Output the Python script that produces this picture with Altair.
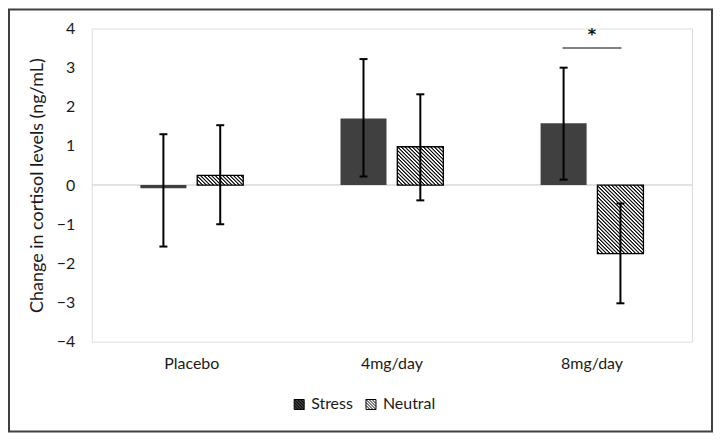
import math
import altair as alt
import pandas as pd

# ---------------- data ----------------
categories = ["Placebo", "4mg/day", "8mg/day"]
series_names = ["Stress", "Neutral"]
stress_mean = [-0.08, 1.70, 1.58]
stress_lo = [-1.57, 0.22, 0.14]
stress_hi = [1.30, 3.22, 3.00]
neutral_mean = [0.25, 0.98, -1.75]
neutral_lo = [-1.00, -0.39, -3.02]
neutral_hi = [1.53, 2.32, -0.47]
y_ticks = [-4, -3, -2, -1, 0, 1, 2, 3, 4]
sig_category = ["8mg/day"]
sig_y = [3.5]
star_y = [3.71]
star_text = ["*"]
y_title = "Change in cortisol levels (ng/mL)"

# ---------------- layout / style ----------------
W, H = 602, 314
Y_MIN, Y_MAX = -4, 4
PAD_IN, PAD_OUT = 0.486, 0.243
OFF_PAD = 0.19
FONT = "Lato"
TXT = "#1a1a1a"
FS = 16

rows = []
for i, c in enumerate(categories):
    rows.append(dict(cat=c, series="Stress", mean=stress_mean[i], lo=stress_lo[i], hi=stress_hi[i]))
    rows.append(dict(cat=c, series="Neutral", mean=neutral_mean[i], lo=neutral_lo[i], hi=neutral_hi[i]))
df = pd.DataFrame(rows)

x_scale = alt.Scale(domain=categories, paddingInner=PAD_IN, paddingOuter=PAD_OUT)
xo_scale = alt.Scale(domain=series_names, paddingInner=OFF_PAD, paddingOuter=0)
y_scale = alt.Scale(domain=[Y_MIN, Y_MAX], nice=False, zero=False)

x_axis = alt.Axis(title=None, domain=False, ticks=False, labelAngle=0, labelPadding=14,
                  labelFont=FONT, labelFontSize=FS, labelColor=TXT)
y_axis = alt.Axis(title=y_title, values=y_ticks, domain=False, ticks=False, grid=False,
                  labelOverlap=False, labelPadding=17, labelFont=FONT, labelFontSize=FS,
                  labelColor=TXT, titleFont=FONT, titleFontSize=18, titleFontWeight="normal",
                  titleColor=TXT, titlePadding=10)

X = alt.X("cat:N", scale=x_scale, axis=x_axis)
XO = alt.XOffset("series:N", scale=xo_scale)


def Y(field):
    return alt.Y(field, scale=y_scale, axis=y_axis, title=y_title)


# bar width in px, used only to shape the hatch gradient
step = W / (len(categories) - PAD_IN + 2 * PAD_OUT)
band = step * (1 - PAD_IN)
bar_w = band / (2 - OFF_PAD) * (1 - OFF_PAD)
px_per_unit = H / (Y_MAX - Y_MIN)


def hatch(w, h, period=2.6, ink="#111111"):
    D = (w + h) / math.sqrt(2)
    s = (w * w + h * h) / (w + h)
    x2 = w / s
    y2 = 1 - h / s
    pf = period / D
    stops = [{"offset": 0, "color": "#ffffff"}]
    k = 0
    while (k + 1) * pf <= 1:
        a = k * pf
        stops += [
            {"offset": a + 0.15 * pf, "color": "#ffffff"},
            {"offset": a + 0.4 * pf, "color": ink},
            {"offset": a + 0.6 * pf, "color": ink},
            {"offset": a + 0.85 * pf, "color": "#ffffff"},
        ]
        k += 1
    stops.append({"offset": 1, "color": "#ffffff"})
    return {"gradient": "linear", "x1": 0, "y1": 1, "x2": x2, "y2": y2, "stops": stops}


# legend symbol: outlined square with diagonal hatch
hatch_path = "M-1,-1H1V1H-1Z"
for c in [-1.2, -0.6, 0, 0.6, 1.2]:
    if c >= 0:
        hatch_path += f"M{c - 1},-1L1,{1 - c}"
    else:
        hatch_path += f"M-1,{-1 - c}L{1 + c},1"

legend = alt.Legend(title=None, orient="none", legendX=200, legendY=369, direction="horizontal",
                    symbolType=hatch_path, symbolSize=100, symbolStrokeColor="black",
                    symbolStrokeWidth=1, labelFont=FONT, labelFontSize=FS, labelColor=TXT,
                    columnPadding=10, labelOffset=4, padding=0)

zero_df = pd.DataFrame({"z": [0]})
zero_line = alt.Chart(zero_df).mark_rule(color="#d9d9d9", strokeWidth=1.5).encode(y=Y("z:Q"))

bars = alt.Chart(df).mark_bar().encode(
    x=X, xOffset=XO,
    y=Y("mean:Q"),
    y2=alt.Y2(datum=0),
    fill=alt.Fill("series:N", scale=alt.Scale(domain=series_names, range=["#404040", "#ffffff"]),
                  legend=legend),
)

hatch_layers = []
for i, c in enumerate(categories):
    h = abs(neutral_mean[i]) * px_per_unit
    hatch_layers.append(
        alt.Chart(df)
        .transform_filter((alt.datum.series == "Neutral") & (alt.datum.cat == c))
        .mark_bar(fill=hatch(bar_w, h), stroke="black", strokeWidth=1.3)
        .encode(x=X, xOffset=XO, y=Y("mean:Q"), y2=alt.Y2(datum=0))
    )

err = alt.Chart(df).mark_rule(color="black", strokeWidth=2).encode(
    x=X, xOffset=XO, y=Y("lo:Q"), y2="hi:Q"
)
cap_lo = alt.Chart(df).mark_tick(color="black", thickness=2, size=8, opacity=1).encode(
    x=X, xOffset=XO, y=Y("lo:Q")
)
cap_hi = alt.Chart(df).mark_tick(color="black", thickness=2, size=8, opacity=1).encode(
    x=X, xOffset=XO, y=Y("hi:Q")
)

sig_df = pd.DataFrame({"cat": sig_category, "y": sig_y, "star_y": star_y, "t": star_text})
sig_line = alt.Chart(sig_df).mark_tick(color="#595959", thickness=1.5, size=59, opacity=1).encode(
    x=X, y=Y("y:Q")
)
star = alt.Chart(sig_df).mark_text(font="DejaVu Sans", fontSize=16, fontWeight="bold", color="#111111",
                                   align="center", baseline="alphabetic").encode(
    x=X, y=Y("star_y:Q"), text="t:N"
)

frame = alt.Chart(pd.DataFrame({"f": [0]})).mark_rect(
    fillOpacity=0, stroke="#404040", strokeWidth=2
).encode(x=alt.value(-83), x2=alt.value(622), y=alt.value(-19), y2=alt.value(404))

chart = alt.layer(zero_line, bars, *hatch_layers, err, cap_lo, cap_hi, sig_line, star, frame).properties(
    width=W, height=H,
    autosize=alt.AutoSizeParams(type="none"),
    padding={"left": 84, "top": 20, "right": 22, "bottom": 93},
).configure_view(stroke=None).configure(font=FONT, background="white")

chart.save("out.html", embed_options={"renderer": "svg", "actions": False})
